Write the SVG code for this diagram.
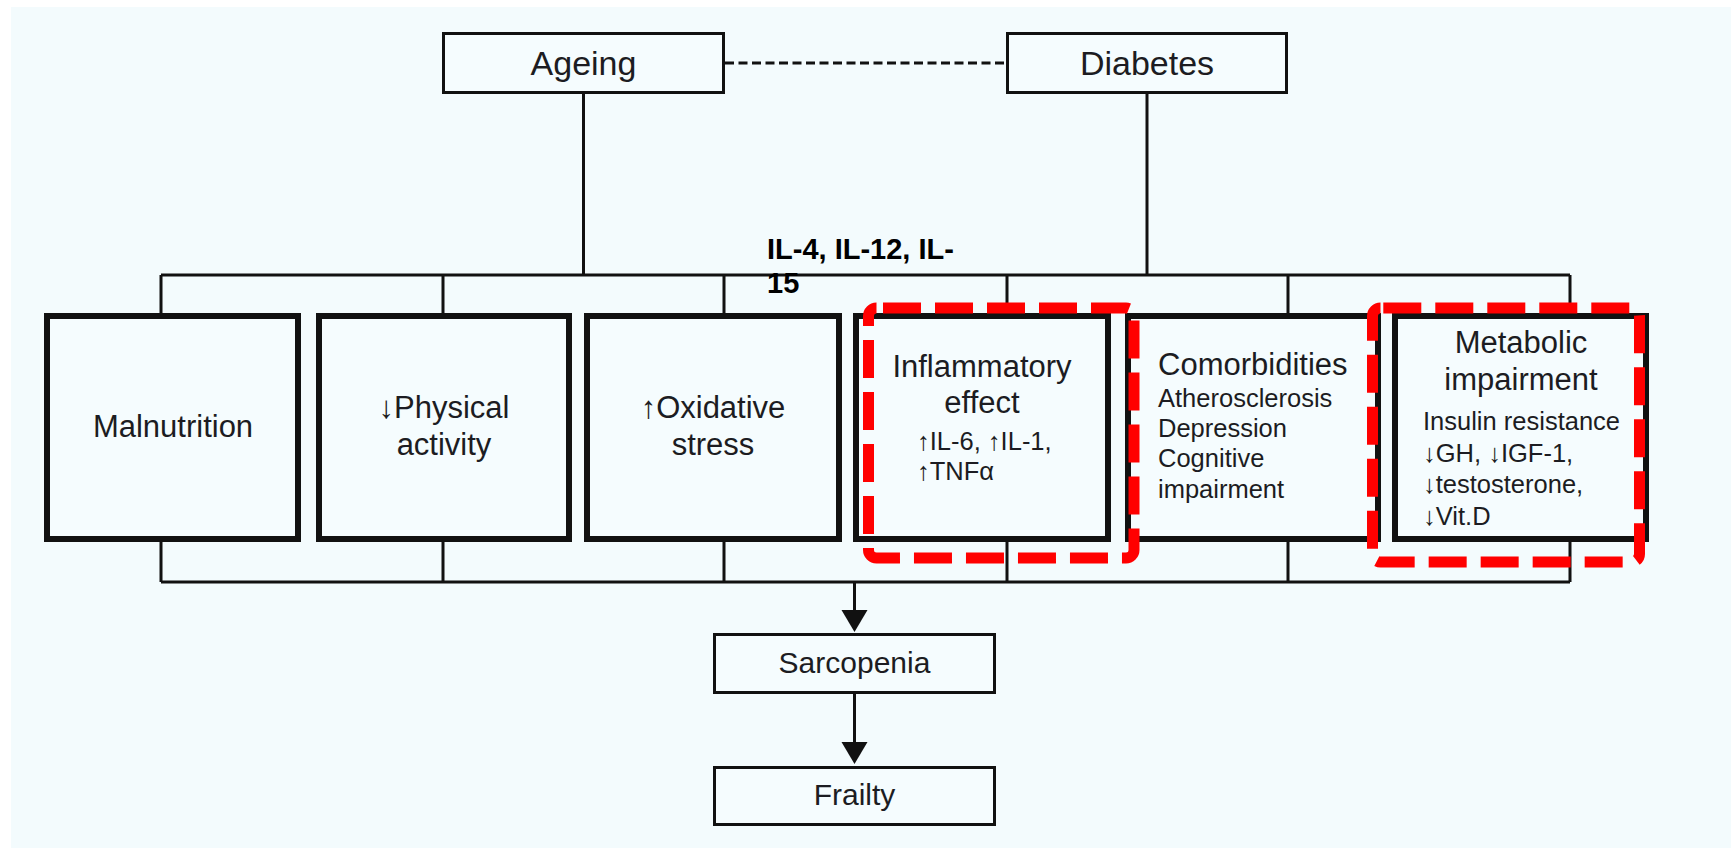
<svg xmlns="http://www.w3.org/2000/svg" width="1731" height="848" viewBox="0 0 1731 848">
  <style>
    .box { fill: #f5fcfe; stroke: #111; }
    .thin { stroke-width: 3; }
    .thick { stroke-width: 6; }
    .wire { fill: none; stroke: #111; stroke-width: 3; }
    .dots { fill: none; stroke: #111; stroke-width: 3; stroke-dasharray: 9 4.5; }
    .t { font-family: "Liberation Sans", Arial, Helvetica, sans-serif; fill: #1c1c22; }
    .title { font-size: 34px; text-anchor: middle; }
    .head { font-size: 31px; }
    .mid { text-anchor: middle; }
    .sub { font-size: 25.5px; }
    .note { font-family: "Liberation Sans", Arial, Helvetica, sans-serif; font-size: 29px; font-weight: bold; fill: #000; }
    .flag { fill: none; stroke: #ff0000; stroke-width: 11; stroke-dasharray: 38 14; }
  </style>

  <!-- page -->
  <rect x="11" y="7" width="1720" height="841" fill="#f3fbfd"/>

  <!-- connectors -->
  <g id="connectors">
    <line class="dots" x1="725" y1="63" x2="1006" y2="63"/>
    <line class="wire" x1="583.5" y1="94" x2="583.5" y2="275"/>
    <line class="wire" x1="1147" y1="94" x2="1147" y2="275"/>
    <!-- upper bus with drops into the factor boxes -->
    <path class="wire" d="M161 275 H1570 M161 275 V313 M443 275 V313 M724 275 V313 M1007 275 V313 M1288 275 V313 M1570 275 V313"/>
    <!-- lower bus collecting the factor boxes -->
    <path class="wire" d="M161 541 V582 M443 541 V582 M724 541 V582 M1007 541 V582 M1288 541 V582 M1570 541 V582 M161 582 H1570"/>
    <line class="wire" x1="854.5" y1="582" x2="854.5" y2="612"/>
    <polygon points="841.5,610 867.5,610 854.5,632" fill="#111"/>
    <line class="wire" x1="854.5" y1="694" x2="854.5" y2="744"/>
    <polygon points="841.5,742 867.5,742 854.5,764" fill="#111"/>
  </g>

  <g id="ageing">
    <rect class="box thin" x="443.5" y="33.5" width="280" height="59"/>
    <text class="t title" x="583.5" y="75">Ageing</text>
  </g>

  <g id="diabetes">
    <rect class="box thin" x="1007.5" y="33.5" width="279" height="59"/>
    <text class="t title" x="1147" y="75">Diabetes</text>
  </g>

  <g id="cytokine-note">
    <text class="note" x="767" y="259">IL-4, IL-12, IL-</text>
    <text class="note" x="767" y="293">15</text>
  </g>

  <g id="malnutrition">
    <rect class="box thick" x="47" y="316" width="251" height="223"/>
    <text class="t head mid" x="173" y="437">Malnutrition</text>
  </g>

  <g id="physical-activity">
    <rect class="box thick" x="319" y="316" width="250" height="223"/>
    <text class="t head mid" x="444" y="418">↓Physical</text>
    <text class="t head mid" x="444" y="455">activity</text>
  </g>

  <g id="oxidative-stress">
    <rect class="box thick" x="587" y="316" width="252" height="223"/>
    <text class="t head mid" x="713" y="418">↑Oxidative</text>
    <text class="t head mid" x="713" y="455">stress</text>
  </g>

  <g id="inflammatory-effect">
    <rect class="box thick" x="856" y="316" width="252" height="223"/>
    <text class="t head mid" x="982" y="377">Inflammatory</text>
    <text class="t head mid" x="982" y="413">effect</text>
    <text class="t sub" x="917" y="450">↑IL-6, ↑IL-1,</text>
    <text class="t sub" x="917" y="480">↑TNFα</text>
  </g>

  <g id="comorbidities">
    <rect class="box thick" x="1128" y="316" width="250" height="223"/>
    <text class="t head" x="1158" y="375">Comorbidities</text>
    <text class="t sub" x="1158" y="407">Atherosclerosis</text>
    <text class="t sub" x="1158" y="437">Depression</text>
    <text class="t sub" x="1158" y="467">Cognitive</text>
    <text class="t sub" x="1158" y="498">impairment</text>
  </g>

  <g id="metabolic-impairment">
    <rect class="box thick" x="1395" y="316" width="251" height="223"/>
    <text class="t head mid" x="1521" y="353">Metabolic</text>
    <text class="t head mid" x="1521" y="390">impairment</text>
    <text class="t sub" x="1423" y="430">Insulin resistance</text>
    <text class="t sub" x="1423" y="462">↓GH, ↓IGF-1,</text>
    <text class="t sub" x="1423" y="493">↓testosterone,</text>
    <text class="t sub" x="1423" y="525">↓Vit.D</text>
  </g>

  <g id="sarcopenia">
    <rect class="box thin" x="714.5" y="634.5" width="280" height="58"/>
    <text class="t title" style="font-size:30px" x="854.5" y="673">Sarcopenia</text>
  </g>

  <g id="frailty">
    <rect class="box thin" x="714.5" y="767.5" width="280" height="57"/>
    <text class="t title" style="font-size:30px" x="854.5" y="805">Frailty</text>
  </g>

  <!-- red dashed highlight frames -->
  <g id="highlights">
    <rect class="flag" x="868.5" y="308" width="265.5" height="250" rx="8" stroke-dashoffset="45.5"/>
    <rect class="flag" x="1372.5" y="308" width="267" height="254" rx="8" stroke-dashoffset="49.2"/>
  </g>
</svg>
